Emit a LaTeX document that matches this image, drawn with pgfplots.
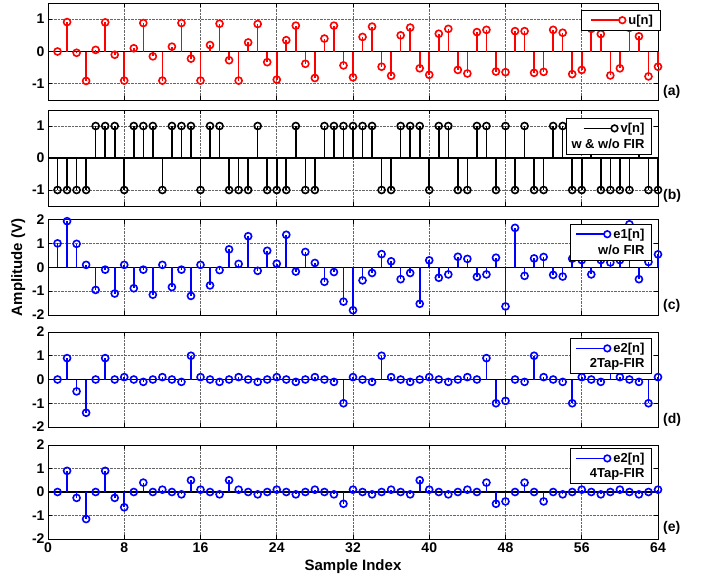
\documentclass[border=0pt]{standalone}
\usepackage{fontspec}
\setmainfont{Liberation Sans}
\setsansfont{Liberation Sans}
\usepackage{pgfplots}
\usepackage{pgfplotstable}
\pgfplotsset{compat=1.18}

\pgfplotstableread{
n u v eA eB eC
1 0 -1 1.0 0 0
2 0.91 -1 1.93 0.9 0.9
3 -0.04 -1 0.98 -0.5 -0.25
4 -0.91 -1 0.1 -1.4 -1.15
5 0.05 1 -0.95 0 0
6 0.9 1 -0.1 0.9 0.9
7 -0.1 1 -1.1 0 -0.25
8 -0.9 -1 0.1 0.1 -0.65
9 0.1 1 -0.88 0 0
10 0.88 1 -0.1 -0.1 0.4
11 -0.15 1 -1.15 0 0
12 -0.9 -1 0.1 0.1 0.1
13 0.15 1 -0.83 0 0
14 0.88 1 -0.1 -0.1 -0.1
15 -0.22 1 -1.2 1.0 0.5
16 -0.9 -1 0.1 0.1 0.1
17 0.2 1 -0.76 0 0
18 0.86 1 -0.12 -0.1 -0.1
19 -0.27 -1 0.75 0 0.5
20 -0.9 -1 0.14 0.1 0.1
21 0.28 -1 1.3 0 0
22 0.85 1 -0.15 -0.1 -0.1
23 -0.33 -1 0.69 0 0
24 -0.87 -1 0.15 0.1 0.1
25 0.35 -1 1.36 0 0
26 0.8 1 -0.18 -0.1 -0.1
27 -0.38 -1 0.64 0 0
28 -0.82 -1 0.18 0.1 0.1
29 0.4 1 -0.61 0 0
30 0.8 1 -0.2 -0.1 -0.1
31 -0.43 1 -1.44 -1.0 -0.5
32 -0.8 1 -1.8 0.1 0.1
33 0.45 1 -0.55 0 0
34 0.77 1 -0.24 -0.1 -0.1
35 -0.47 -1 0.55 1.0 0
36 -0.75 -1 0.25 0.1 0.1
37 0.5 1 -0.5 0 0
38 0.74 1 -0.24 -0.1 -0.1
39 -0.52 1 -1.53 0 0.5
40 -0.72 -1 0.29 0.1 0.1
41 0.55 1 -0.44 0 0
42 0.7 1 -0.3 -0.1 -0.1
43 -0.57 -1 0.44 0 0
44 -0.68 -1 0.35 0.1 0.1
45 0.6 1 -0.4 0 0
46 0.67 1 -0.3 0.9 0.4
47 -0.62 -1 0.4 -1.0 -0.5
48 -0.64 1 -1.64 -0.9 -0.4
49 0.63 -1 1.65 0 0
50 0.63 1 -0.36 -0.1 0.4
51 -0.66 -1 0.37 1.0 0
52 -0.63 -1 0.43 0.1 -0.4
53 0.67 1 -0.32 0 0
54 0.58 1 -0.39 -0.1 -0.1
55 -0.7 -1 0.36 -1.0 0
56 -0.57 -1 0.3 0.1 0.1
57 0.7 1 -0.3 0 0
58 0.54 -1 0.3 -0.1 -0.1
59 -0.74 -1 0.2 1.0 0
60 -0.52 -1 0.3 0.1 0.1
61 0.73 -1 1.8 0 0
62 0.47 1 -0.5 -0.1 -0.1
63 -0.77 -1 0.22 -1.0 0
64 -0.47 -1 0.54 0.1 0.1
}\data

\tikzset{tag/.style={anchor=west, font=\fontsize{14}{16}\selectfont\bfseries, inner sep=0pt, xshift=5pt}}

\pgfplotsset{
  panel/.style={
    width=610pt, scale only axis, xmin=0, xmax=64, xtick={0,8,...,64},
    grid=major, major grid style={densely dotted, black!60, line width=0.8pt},
    axis line style={black, line width=0.9pt},
    tick style={black, line width=0.9pt},
    major tick length=4pt,
    tick align=inside,
    /pgf/number format/assume math mode=true,
    tick label style={font=\fontsize{14}{16}\selectfont\bfseries},
    label style={font=\fontsize{15}{17}\selectfont\bfseries},
    legend style={font=\fontsize{13}{15}\selectfont\bfseries, draw=black, line width=0.9pt,
      fill=white, anchor=north east, row sep=1pt, inner xsep=5pt, inner ysep=2.5pt},
    legend cell align=right,
    clip=false,
  },
  stem/.style={ycomb, color=#1, line width=1.6pt, mark=o, mark size=3.5pt,
    mark options={solid, fill=white, line width=1.6pt}, forget plot},
  base/.style={black, line width=1.1pt, forget plot},
  legstem/.style 2 args={legend image code/.code={\path (-#1,0pt);
      \draw[#2, line width=1.6pt] (0pt,0pt) -- (28pt,0pt);
      \draw[#2, line width=1.6pt, fill=white] (31pt,0pt) circle (3.3pt);}},
}

\begin{document}
\begin{tikzpicture}
\useasboundingbox (0pt,0pt) rectangle (709pt,-584pt);

% (a)
\begin{axis}[panel, at={(48pt,-3pt)}, anchor=north west, height=97pt,
  ymin=-1.5, ymax=1.5, ytick={-1,0,1}, xticklabels={},
  legend style={at={(rel axis cs:1.004,0.93)}}]
\addplot[base] coordinates {(0,0) (64,0)};
\addplot[stem=red] table[x=n, y=u] {\data};
\addlegendimage{legstem={4pt}{red}}
\addlegendentry{u[n]\hspace{6pt}}
\node[tag] at (rel axis cs:1,0.08) {(a)};
\end{axis}

% (b)
\begin{axis}[panel, at={(48pt,-110pt)}, anchor=north west, height=96pt,
  ymin=-1.5, ymax=1.5, ytick={-1,0,1}, xticklabels={},
  legend style={at={(rel axis cs:0.99,0.917)}}]
\addplot[base] coordinates {(0,0) (64,0)};
\addplot[stem=black] table[x=n, y=v] {\data};
\addlegendimage{legstem={12pt}{black}}
\addlegendentry{v[n]}
\addlegendimage{empty legend}
\addlegendentry{\makebox[0pt][r]{w \& w/o FIR}}
\node[tag] at (rel axis cs:1,0.11) {(b)};
\end{axis}

% (c)
\begin{axis}[panel, at={(48pt,-219.5pt)}, anchor=north west, height=95.5pt,
  ymin=-2, ymax=2, ytick={-2,-1,0,1,2}, xticklabels={},
  ylabel={Amplitude (V)},
  legend style={at={(rel axis cs:0.99,0.955)}}]
\addplot[base] coordinates {(0,0) (64,0)};
\addplot[stem=blue] table[x=n, y=eA] {\data};
\addlegendimage{legstem={0pt}{blue}}
\addlegendentry{e1[n]}
\addlegendimage{empty legend}
\addlegendentry{\makebox[0pt][r]{w/o FIR}}
\node[tag] at (rel axis cs:1,0.1) {(c)};
\end{axis}

% (d)
\begin{axis}[panel, at={(48pt,-332pt)}, anchor=north west, height=95pt,
  ymin=-2, ymax=2, ytick={-2,-1,0,1,2}, xticklabels={},
  legend style={at={(rel axis cs:0.99,0.937)}}]
\addplot[base] coordinates {(0,0) (64,0)};
\addplot[stem=blue] table[x=n, y=eB] {\data};
\addlegendimage{legstem={0pt}{blue}}
\addlegendentry{e2[n]}
\addlegendimage{empty legend}
\addlegendentry{\makebox[0pt][r]{2Tap-FIR}}
\node[tag] at (rel axis cs:1,0.07) {(d)};
\end{axis}

% (e)
\begin{axis}[panel, at={(48pt,-445pt)}, anchor=north west, height=94pt,
  ymin=-2, ymax=2, ytick={-2,-1,0,1,2},
  xlabel={Sample Index},
  legend style={at={(rel axis cs:0.99,0.968)}}]
\addplot[base] coordinates {(0,0) (64,0)};
\addplot[stem=blue] table[x=n, y=eC] {\data};
\addlegendimage{legstem={0pt}{blue}}
\addlegendentry{e2[n]}
\addlegendimage{empty legend}
\addlegendentry{\makebox[0pt][r]{4Tap-FIR}}
\node[tag] at (rel axis cs:1,0.12) {(e)};
\end{axis}
\end{tikzpicture}
\end{document}
